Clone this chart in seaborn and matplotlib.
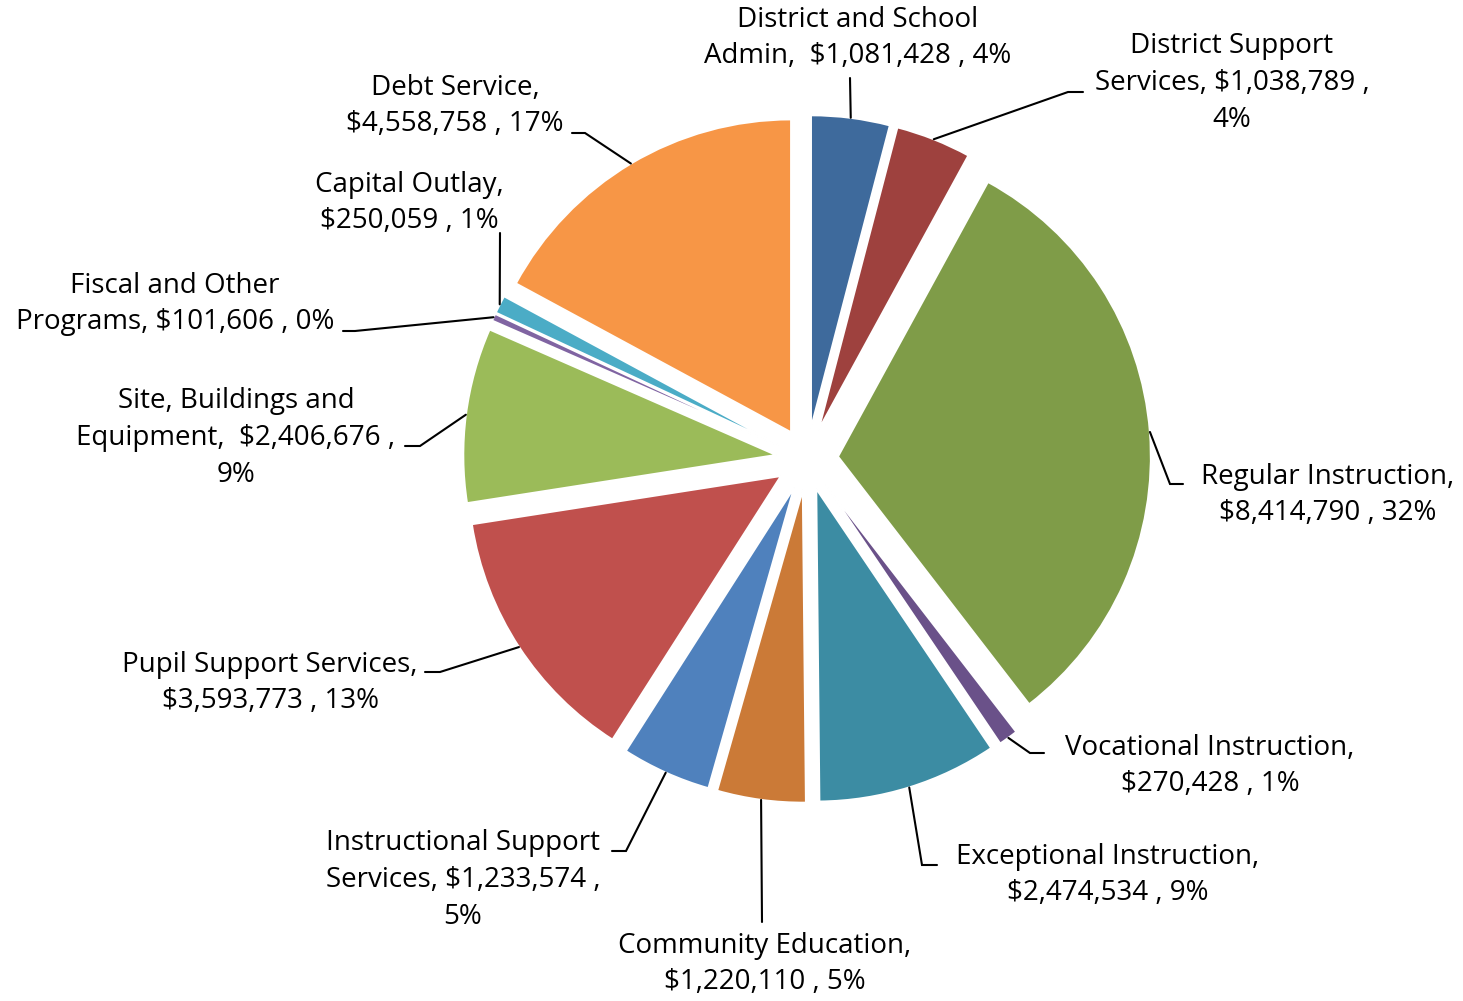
import numpy as np
import matplotlib
matplotlib.use("Agg")
import matplotlib.pyplot as plt
import seaborn as sns

sns.set_theme(style="white")
plt.rcParams['font.family'] = ['Open Sans', 'DejaVu Sans']

# data (clockwise from 12 o'clock)
categories = ["District and School\nAdmin,", "District Support\nServices,", "Regular Instruction,",
              "Vocational Instruction,", "Exceptional Instruction,", "Community Education,",
              "Instructional Support\nServices,", "Pupil Support Services,",
              "Site, Buildings and\nEquipment,", "Fiscal and Other\nPrograms,",
              "Capital Outlay,", "Debt Service,"]
amounts = [1081428, 1038789, 8414790, 270428, 2474534, 1220110,
           1233574, 3593773, 2406676, 101606, 250059, 4558758]
colors = ["#3E6A9C", "#9E413E", "#7F9C48", "#6A5189", "#3C8CA3", "#CB7A37",
          "#4F81BD", "#C0504D", "#9BBB59", "#8064A2", "#4BACC6", "#F79646"]

# label text layouts (how each label wraps)
label_fmt = ["{n}  {v} , {p}", "{n} {v} ,\n{p}", "{n}\n{v} , {p}", "{n}\n{v} , {p}",
             "{n}\n{v} , {p}", "{n}\n{v} , {p}", "{n} {v} ,\n{p}", "{n}\n{v} , {p}",
             "{n}  {v} ,\n{p}", "{n} {v} , {p}", "{n}\n{v} , {p}", "{n}\n{v} , {p}"]

W, H = 1463, 1001
CX, CY, R = 807, 459, 313   # pixel layout of the pie
EXPLODE = 31                # explode offset in pixels

def Y(py):
    return H - py

# text centre positions (pixels) and leader elbow / end points (pixels)
text_pos = [(858, 38), (1232, 83), (1328, 495), (1210, 766), (1108, 875), (765, 964),
            (463, 880), (270, 683), (236, 438), (175, 304), (409, 203), (455, 106)]
leaders = [[(850, 78)],
           [(1068, 92), (1083, 92)],
           [(1170, 484), (1183, 484)],
           [(1030, 753), (1044, 753)],
           [(922, 865), (937, 865)],
           [(762, 922)],
           [(626, 851), (612, 851)],
           [(440, 672), (425, 672)],
           [(420, 446), (405, 446)],
           [(355, 331), (343, 331)],
           [(500, 233)],
           [(585, 133), (572, 133)]]

fig = plt.figure(figsize=(W / 100, H / 100), dpi=100)
ax = fig.add_axes([0, 0, 1, 1])

wedges, _ = ax.pie(amounts, colors=colors, startangle=90, counterclock=False,
                   explode=[EXPLODE] * len(amounts), radius=R, center=(CX, Y(CY)),
                   wedgeprops=dict(edgecolor="white", linewidth=1.5))

total = sum(amounts)
for i, w in enumerate(wedges):
    theta = np.deg2rad((w.theta1 + w.theta2) / 2)
    ax_ = CX + (R + EXPLODE) * np.cos(theta)
    ay_ = Y(CY) + (R + EXPLODE) * np.sin(theta)
    xs = [ax_] + [p[0] for p in leaders[i]]
    ys = [ay_] + [Y(p[1]) for p in leaders[i]]
    ax.plot(xs, ys, color="black", lw=1.5, solid_joinstyle="miter")

    pct = f"{round(100 * amounts[i] / total)}%"
    txt = label_fmt[i].format(n=categories[i], v=f"${amounts[i]:,}", p=pct)
    tx, ty = text_pos[i]
    ax.text(tx, Y(ty), txt, ha="center", va="center", multialignment="center",
            fontsize=20, linespacing=1.41, color="black")

ax.set_xlim(0, W)
ax.set_ylim(0, H)
ax.set_aspect("equal")
ax.axis("off")

plt.savefig("out.png", dpi=100, facecolor="white")
plt.close()
